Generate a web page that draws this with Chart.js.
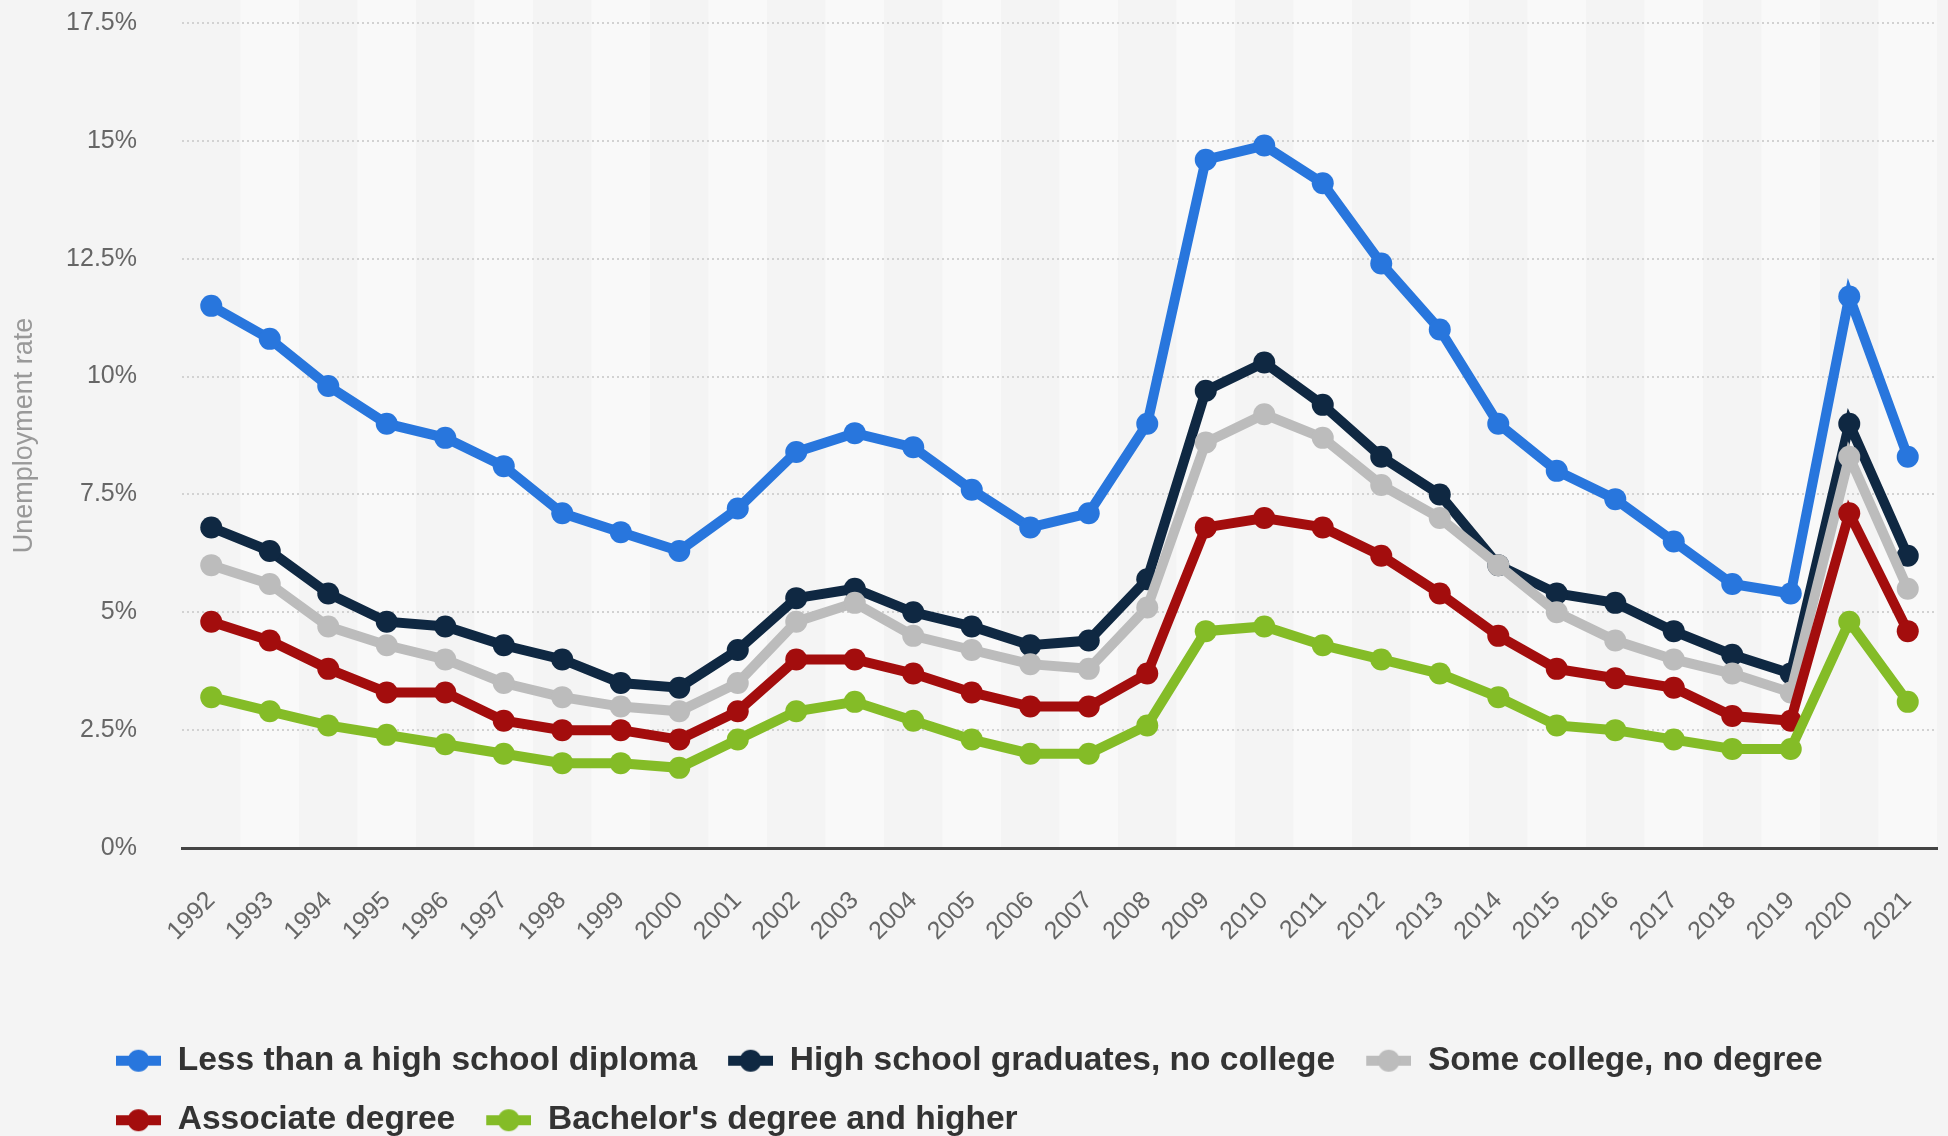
<!DOCTYPE html>
<html>
<head>
<meta charset="utf-8">
<title>Unemployment rate by education</title>
<script src="https://cdn.jsdelivr.net/npm/chart.js@4.4.1/dist/chart.umd.min.js"></script>
<style>
  html, body { margin: 0; padding: 0; background: #f4f4f4; }
  canvas { display: block; }
</style>
</head>
<body>
<canvas id="rate-chart" width="1948" height="1136"></canvas>
<script>
const years = ['1992', '1993', '1994', '1995', '1996', '1997', '1998', '1999', '2000', '2001',
  '2002', '2003', '2004', '2005', '2006', '2007', '2008', '2009', '2010', '2011',
  '2012', '2013', '2014', '2015', '2016', '2017', '2018', '2019', '2020', '2021'];

const seriesNames = ['Less than a high school diploma', 'High school graduates, no college',
  'Some college, no degree', 'Associate degree', "Bachelor's degree and higher"];

const lessThanHighSchool = [11.5, 10.8, 9.8, 9.0, 8.7, 8.1, 7.1, 6.7, 6.3, 7.2,
  8.4, 8.8, 8.5, 7.6, 6.8, 7.1, 9.0, 14.6, 14.9, 14.1,
  12.4, 11.0, 9.0, 8.0, 7.4, 6.5, 5.6, 5.4, 11.7, 8.3];
const highSchoolGrads = [6.8, 6.3, 5.4, 4.8, 4.7, 4.3, 4.0, 3.5, 3.4, 4.2,
  5.3, 5.5, 5.0, 4.7, 4.3, 4.4, 5.7, 9.7, 10.3, 9.4,
  8.3, 7.5, 6.0, 5.4, 5.2, 4.6, 4.1, 3.7, 9.0, 6.2];
const someCollege = [6.0, 5.6, 4.7, 4.3, 4.0, 3.5, 3.2, 3.0, 2.9, 3.5,
  4.8, 5.2, 4.5, 4.2, 3.9, 3.8, 5.1, 8.6, 9.2, 8.7,
  7.7, 7.0, 6.0, 5.0, 4.4, 4.0, 3.7, 3.3, 8.3, 5.5];
const associateDegree = [4.8, 4.4, 3.8, 3.3, 3.3, 2.7, 2.5, 2.5, 2.3, 2.9,
  4.0, 4.0, 3.7, 3.3, 3.0, 3.0, 3.7, 6.8, 7.0, 6.8,
  6.2, 5.4, 4.5, 3.8, 3.6, 3.4, 2.8, 2.7, 7.1, 4.6];
const bachelorsAndHigher = [3.2, 2.9, 2.6, 2.4, 2.2, 2.0, 1.8, 1.8, 1.7, 2.3,
  2.9, 3.1, 2.7, 2.3, 2.0, 2.0, 2.6, 4.6, 4.7, 4.3,
  4.0, 3.7, 3.2, 2.6, 2.5, 2.3, 2.1, 2.1, 4.8, 3.1];

const colors = ['#2876dd', '#0f2842', '#bcbcbc', '#a30d0d', '#84bc27'];
const allSeries = [lessThanHighSchool, highSchoolGrads, someCollege, associateDegree, bachelorsAndHigher];

// little line + dot icon like the original legend
function legendMarker(color) {
  const c = document.createElement('canvas');
  c.width = 50;
  c.height = 24;
  const g = c.getContext('2d');
  g.fillStyle = color;
  g.fillRect(5, 7, 45, 10);
  g.beginPath();
  g.arc(27.5, 12, 11, 0, Math.PI * 2);
  g.fill();
  return c;
}
const markers = colors.map(legendMarker);

// background + alternating column bands
const bandsPlugin = {
  id: 'bands',
  beforeDraw(chart) {
    const { ctx, chartArea, scales: { x } } = chart;
    ctx.save();
    ctx.fillStyle = '#f4f4f4';
    ctx.fillRect(0, 0, chart.width, chart.height);
    const band = x.width / years.length;
    ctx.fillStyle = '#f9f9f9';
    years.forEach((y, i) => {
      if (i % 2 === 1) {
        const cx = x.getPixelForValue(i);
        ctx.fillRect(cx - band / 2, 0, band, chartArea.bottom);
      }
    });
    ctx.restore();
  }
};

// move the legend block to line up with the original
const legendShift = {
  id: 'legendShift',
  afterLayout(chart) {
    chart.legend.left += 80;
    chart.legend.top += 11;
  }
};

const datasets = seriesNames.map((name, i) => ({
  label: name,
  data: allSeries[i],
  borderColor: colors[i],
  backgroundColor: colors[i],
  borderWidth: 10,
  pointRadius: 11,
  pointBorderWidth: 0,
  pointBackgroundColor: colors[i],
  tension: 0,
  order: seriesNames.length - i
}));

new Chart(document.getElementById('rate-chart'), {
  type: 'line',
  data: { labels: years, datasets: datasets },
  plugins: [bandsPlugin, legendShift],
  options: {
    responsive: false,
    animation: false,
    events: [],
    layout: { padding: { top: 23, left: 5, right: 9, bottom: 0 } },
    plugins: {
      tooltip: { enabled: false },
      legend: {
        position: 'bottom',
        align: 'start',
        labels: {
          usePointStyle: true,
          pointStyleWidth: 50,
          padding: 26,
          color: '#333333',
          font: { family: '"Liberation Sans", Arial, sans-serif', size: 33.5, weight: 'bold' },
          sort: (a, b) => a.datasetIndex - b.datasetIndex,
          generateLabels: chart => Chart.defaults.plugins.legend.labels.generateLabels(chart).map(item => {
            item.pointStyle = markers[item.datasetIndex];
            return item;
          })
        }
      }
    },
    scales: {
      x: {
        offset: true,
        grid: { display: false, drawTicks: false },
        border: { display: true, color: '#444444', width: 3 },
        ticks: {
          autoSkip: false,
          maxRotation: 45,
          minRotation: 45,
          padding: 38,
          color: '#666666',
          font: { family: '"Liberation Sans", Arial, sans-serif', size: 25 }
        },
        afterFit(scale) {
          scale.height = 159;
          scale.paddingLeft = 0;
          scale.paddingRight = 0;
        }
      },
      y: {
        min: 0,
        max: 17.5,
        grid: {
          drawTicks: false,
          lineWidth: 2,
          color: ctx => (ctx.tick && ctx.tick.value === 0) ? 'rgba(0,0,0,0)' : '#d2d2d2'
        },
        border: { display: false, dash: [2, 3] },
        ticks: {
          stepSize: 2.5,
          padding: 45,
          color: '#666666',
          font: { family: '"Liberation Sans", Arial, sans-serif', size: 25 },
          callback: v => v + '%'
        },
        title: {
          display: true,
          text: 'Unemployment rate',
          color: '#999999',
          padding: { top: 3, bottom: 0 },
          font: { family: '"Liberation Sans", Arial, sans-serif', size: 27 }
        },
        afterFit(scale) {
          scale.width = 177;
          scale.paddingTop = 0;
          scale.paddingBottom = 0;
        }
      }
    }
  }
});
</script>
</body>
</html>
